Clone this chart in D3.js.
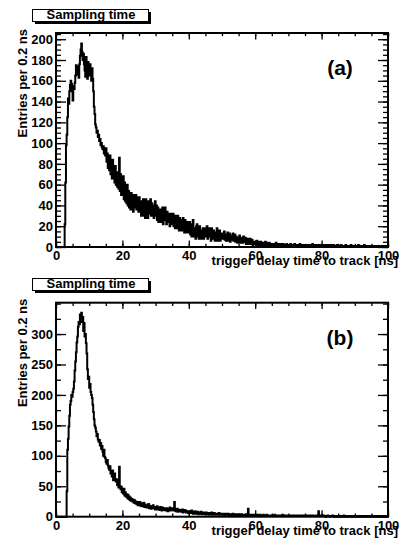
<!DOCTYPE html>
<html lang="en">
<head>
    <meta charset="UTF-8">
    <title>Sampling time</title>
    <script src="https://cdn.jsdelivr.net/npm/d3@7/dist/d3.min.js"></script>
    <style>
        body { margin: 0; background: #fff; }
        svg text { font-family: "Liberation Sans", Arial, Helvetica, sans-serif; font-weight: bold; fill: #000; }
    </style>
</head>
<body>
<script>
    // histogram settings
    var binWidth = 0.2;
    var xMajor = [0, 20, 40, 60, 80, 100];
    var xMinor = d3.range(0, 101, 5);

    // panel (a) - entries per 0.2 ns bin, 25 bins (5 ns) per row
    var countsA = [
        0,0,0,0,0,0,0,0,0,0,0,0,0,22,62,98,108,125,143,138,150,156,160,157,150,
        141,155,152,158,165,175,170,166,174,163,176,184,190,196,188,180,186,176,170,164,183,172,162,178,170,
        165,176,168,160,172,162,150,135,128,118,115,110,112,106,108,102,104,98,100,96,94,97,90,92,88,
        95,82,90,76,86,74,88,70,80,66,84,68,74,62,78,60,72,58,68,56,86,54,70,50,64,
        52,68,46,62,44,58,42,60,40,54,38,50,36,52,40,48,34,50,38,46,50,36,48,40,34,
        48,34,44,30,42,32,46,30,40,28,46,34,42,28,44,32,40,46,30,42,30,40,28,38,44,
        30,40,26,38,24,36,30,24,36,26,38,22,34,26,38,28,22,34,24,32,28,20,32,24,30,
        22,32,20,28,18,30,22,18,30,20,16,28,22,16,26,18,28,16,14,26,20,14,24,16,22,
        14,24,12,22,10,20,26,10,18,14,8,20,22,10,16,8,20,12,8,16,10,18,8,14,10,
        18,10,20,8,16,10,18,12,6,18,10,8,16,10,6,14,10,18,6,14,8,16,6,12,8,
        13,8,9,15,7,12,6,11,14,6,10,13,5,11,7,10,13,6,9,12,5,10,8,4,9,
        8,11,4,9,6,9,4,10,5,7,9,3,6,8,3,6,4,8,3,5,7,2,5,3,5,
        4,2,6,1,4,2,5,1,5,2,2,4,3,1,3,5,2,3,1,4,2,4,1,3,2,
        3,2,1,3,2,2,4,1,2,3,2,1,2,3,1,2,2,3,1,2,2,1,3,2,1,
        2,1,2,3,1,2,1,2,1,3,2,1,2,1,2,2,1,3,1,2,1,1,2,1,2,
        1,2,1,1,2,1,2,1,1,2,1,3,1,1,2,1,1,2,1,1,2,1,1,2,1,
        1,1,2,1,0,1,2,1,1,0,2,1,1,1,2,0,1,1,2,1,1,0,1,2,1,
        1,0,1,1,2,1,0,1,1,0,1,2,1,0,1,1,0,1,1,2,0,1,1,0,1,
        0,1,1,0,1,2,1,0,1,0,1,1,0,1,2,0,1,0,1,1,0,1,0,1,0,
        1,0,1,0,0,1,1,0,1,0,1,0,0,1,1,0,1,0,0,1,0,1,0,0,1
    ];
    var yMajorA = [0, 20, 40, 60, 80, 100, 120, 140, 160, 180, 200];
    var yMinorA = d3.range(0, 206, 5);

    // panel (b)
    var countsB = [
        0,0,0,0,0,0,0,0,0,0,0,0,0,0,0,0,42,110,128,148,166,184,190,200,197,
        205,210,222,240,255,270,286,296,312,320,316,332,325,335,320,328,305,318,296,300,285,268,242,226,230,
        212,218,205,200,195,184,172,160,150,146,140,132,136,127,123,126,117,121,111,116,107,100,110,98,96,
        90,87,93,84,80,77,83,71,75,66,76,60,68,71,62,58,61,52,56,48,82,50,45,49,40,
        43,38,46,35,40,33,37,31,36,29,33,27,31,26,29,25,28,23,27,22,25,21,24,19,23,
        20,24,18,22,17,21,19,23,16,20,18,15,19,17,21,14,18,16,13,17,15,19,14,16,12,
        16,13,17,12,15,14,11,16,13,10,15,12,14,11,13,10,14,12,9,13,11,15,10,12,14,
        11,13,10,24,12,9,11,13,8,12,10,9,11,8,10,12,7,9,11,8,10,7,9,8,6,
        9,7,8,6,10,7,5,8,6,9,5,7,6,8,4,7,5,6,8,4,6,5,7,4,6,
        5,7,4,6,5,3,6,4,5,7,3,5,4,6,3,5,4,3,5,4,6,3,4,5,3,
        4,5,3,4,2,5,3,4,3,5,2,4,3,4,2,3,5,2,4,3,2,4,3,2,3,
        4,2,3,2,4,3,2,3,1,3,2,4,2,3,13,2,3,2,1,3,2,3,2,1,2,
        3,2,1,2,3,2,1,3,2,2,1,2,3,1,2,2,1,3,2,1,2,1,2,2,1,
        2,1,2,1,3,1,2,1,1,2,1,2,1,1,2,1,3,1,1,2,1,1,2,1,1,
        1,2,1,1,2,1,1,2,1,1,2,1,1,1,2,1,1,2,1,1,1,2,1,1,1,
        2,1,1,1,2,1,1,1,2,1,1,1,2,1,1,1,1,2,1,1,9,1,1,1,2,
        1,1,1,2,1,1,0,1,1,2,1,1,0,1,1,1,2,1,0,1,1,1,0,1,1,
        1,0,1,1,1,0,1,1,2,0,1,1,0,1,1,0,1,1,1,0,1,1,0,1,0,
        1,1,0,1,0,1,1,0,1,1,0,1,0,1,0,1,1,0,1,0,1,0,1,1,0,
        0,1,0,1,1,0,1,0,0,1,0,1,0,1,0,0,1,0,1,0,0,1,0,0,1
    ];
    var yMajorB = [0, 50, 100, 150, 200, 250, 300];
    var yMinorB = d3.range(0, 351, 25);

    var titleText = 'Sampling time';
    var xTitle = 'trigger delay time to track [ns]';
    var yTitle = 'Entries per 0.2 ns';

    var w = 419;
    var h = 542;
    var left = 56, right = 388;

    var svg = d3.select('body')
                .append('svg')
                .attr('width', w)
                .attr('height', h);

    var xScale = d3.scaleLinear().domain([0, 100]).range([left, right]);

    function drawPanel(counts, yMax, top, bottom, yMajor, yMinor, tag, boxTop) {
        var yScale = d3.scaleLinear().domain([0, yMax]).range([bottom, top]);
        var g = svg.append('g');

        // histogram outline
        var pts = counts.map(function(c, i) { return [i * binWidth, c]; });
        pts.push([100, counts[counts.length - 1]]);
        var line = d3.line()
                     .x(function(d) { return xScale(d[0]); })
                     .y(function(d) { return yScale(d[1]); })
                     .curve(d3.curveStepAfter);
        g.append('path')
            .attr('d', line(pts))
            .attr('fill', 'none')
            .attr('stroke', '#000')
            .attr('stroke-width', 2);

        var xLen = 6.4, yLen = 10;

        // bottom axis, ticks pointing into the frame
        var xMin = g.append('g').attr('transform', 'translate(0,' + bottom + ')')
            .call(d3.axisBottom(xScale).tickValues(xMinor).tickSize(-xLen / 2).tickFormat(''));
        var xMaj = g.append('g').attr('transform', 'translate(0,' + bottom + ')')
            .call(d3.axisBottom(xScale).tickValues(xMajor).tickSize(-xLen).tickPadding(4));
        // top axis mirror
        var tMin = g.append('g').attr('transform', 'translate(0,' + top + ')')
            .call(d3.axisTop(xScale).tickValues(xMinor).tickSize(-xLen / 2).tickFormat(''));
        var tMaj = g.append('g').attr('transform', 'translate(0,' + top + ')')
            .call(d3.axisTop(xScale).tickValues(xMajor).tickSize(-xLen).tickFormat(''));

        // left axis
        var lMin = g.append('g').attr('transform', 'translate(' + left + ',0)')
            .call(d3.axisLeft(yScale).tickValues(yMinor).tickSize(-yLen / 2).tickFormat(''));
        var lMaj = g.append('g').attr('transform', 'translate(' + left + ',0)')
            .call(d3.axisLeft(yScale).tickValues(yMajor).tickSize(-yLen).tickPadding(3));
        // right axis mirror
        var rMin = g.append('g').attr('transform', 'translate(' + right + ',0)')
            .call(d3.axisRight(yScale).tickValues(yMinor).tickSize(-yLen / 2).tickFormat(''));
        var rMaj = g.append('g').attr('transform', 'translate(' + right + ',0)')
            .call(d3.axisRight(yScale).tickValues(yMajor).tickSize(-yLen).tickFormat(''));

        [xMin, xMaj, tMin, tMaj, lMin, lMaj, rMin, rMaj].forEach(function(a) {
            a.attr('font-family', null).attr('font-size', 13);
            a.select('.domain').remove();
            a.selectAll('line').attr('stroke', '#000').attr('stroke-width', 1.3);
        });

        // frame
        g.append('rect')
            .attr('x', left)
            .attr('y', top)
            .attr('width', right - left)
            .attr('height', bottom - top)
            .attr('fill', 'none')
            .attr('stroke', '#000')
            .attr('stroke-width', 2);

        // axis titles
        g.append('text')
            .attr('x', 398)
            .attr('y', bottom + 18)
            .attr('text-anchor', 'end')
            .attr('font-size', 13)
            .text(xTitle);
        g.append('text')
            .attr('transform', 'translate(27,' + (top - 4) + ') rotate(-90)')
            .attr('text-anchor', 'end')
            .attr('font-size', 13)
            .text(yTitle);

        // panel tag
        g.append('text')
            .attr('x', 340)
            .attr('y', top + 42)
            .attr('text-anchor', 'middle')
            .attr('font-size', 21)
            .text(tag);

        // title box with shadow
        g.append('rect')
            .attr('x', 35).attr('y', boxTop + 3)
            .attr('width', 116).attr('height', 12)
            .attr('fill', '#000');
        g.append('rect')
            .attr('x', 32.5).attr('y', boxTop + 0.5)
            .attr('width', 116).attr('height', 12)
            .attr('fill', '#fff')
            .attr('stroke', '#000')
            .attr('stroke-width', 1);
        g.append('text')
            .attr('x', 91)
            .attr('y', boxTop + 10)
            .attr('text-anchor', 'middle')
            .attr('font-size', 13)
            .text(titleText);
    }

    drawPanel(countsA, 206, 33, 247, yMajorA, yMinorA, '(a)', 9);
    drawPanel(countsB, 351.5, 302.7, 516.7, yMajorB, yMinorB, '(b)', 278);
</script>
</body>
</html>
